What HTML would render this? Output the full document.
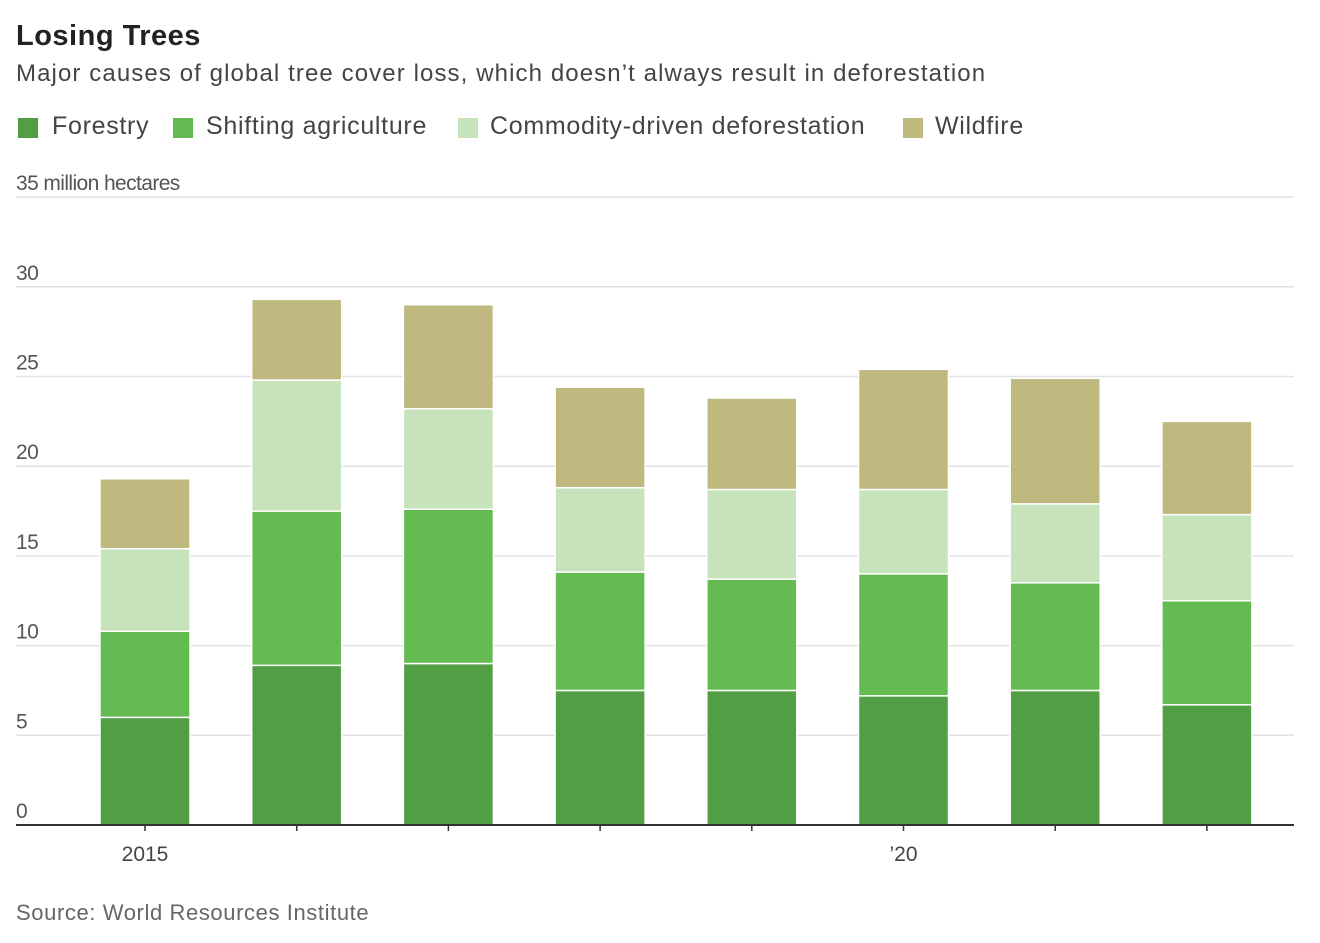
<!DOCTYPE html>
<html><head><meta charset="utf-8"><style>
body{margin:0;background:#fff;font-family:"Liberation Sans",sans-serif;color:#333;}
#wrap{position:relative;width:1320px;height:943px;overflow:hidden;}
.t{position:absolute;white-space:nowrap;}
.lg{position:absolute;top:112px;font-size:25px;color:#444;letter-spacing:0.7px;white-space:nowrap;}
.sw{position:absolute;top:118px;width:20px;height:20px;}
</style></head><body>
<div id="wrap">
<div class="t" style="left:16px;top:20px;font-size:29px;font-weight:bold;color:#222;letter-spacing:0.5px;">Losing Trees</div>
<div class="t" style="left:16px;top:60px;font-size:24px;color:#444;letter-spacing:1.1px;">Major causes of global tree cover loss, which doesn’t always result in deforestation</div>
<div>
<div class="sw" style="left:18px;background:#519e45"></div>
<div class="lg" style="left:52px">Forestry</div>
<div class="sw" style="left:173px;background:#63bb51"></div>
<div class="lg" style="left:206px">Shifting agriculture</div>
<div class="sw" style="left:458px;background:#c6e3bb"></div>
<div class="lg" style="left:490px">Commodity-driven deforestation</div>
<div class="sw" style="left:903px;background:#bfb87f"></div>
<div class="lg" style="left:935px">Wildfire</div>
</div>
<svg id="chart" width="1320" height="943" style="position:absolute;left:0;top:0"></svg>
<div class="t" style="left:16px;top:900px;font-size:22px;color:#666;letter-spacing:0.6px;">Source: World Resources Institute</div>
</div>
<script>
const years=["2015","2016","2017","2018","2019","2020","2021","2022"];
const forestry=[6.0,8.9,9.0,7.5,7.5,7.2,7.5,6.7];
const shifting=[4.8,8.6,8.6,6.6,6.2,6.8,6.0,5.8];
const commodity=[4.6,7.3,5.6,4.7,5.0,4.7,4.4,4.8];
const wildfire=[3.9,4.5,5.8,5.6,5.1,6.7,7.0,5.2];
const yTicks=[0,5,10,15,20,25,30,35];
const xLabels=["2015","","","","","’20","",""];
const ns="http://www.w3.org/2000/svg";
const svg=document.getElementById('chart');
const y0=825,unit=17.94,x0=145,step=151.7,bw=90;
const y=v=>y0-v*unit;
const x=i=>x0+i*step;
function mk(tag,attrs){const e=document.createElementNS(ns,tag);for(const k in attrs)e.setAttribute(k,attrs[k]);svg.appendChild(e);return e;}
yTicks.forEach(t=>{
  if(t>0){const g=mk('line',{x1:16,x2:1294,y1:y(t),y2:y(t),stroke:'#e2e2e2','stroke-width':1.5});
  
  }
  const lb=mk('text',{x:16,y:y(t)-7,'font-size':21,fill:'#555','letter-spacing':'-0.6','font-family':'Liberation Sans Narrow, Liberation Sans, sans-serif'});
  lb.textContent=t===35?'35 million hectares':String(t);
  
  
});
const series=[[forestry,'#519e45','forestry'],[shifting,'#63bb51','shifting'],[commodity,'#c6e3bb','commodity'],[wildfire,'#bfb87f','wildfire']];
years.forEach((yr,i)=>{
  let base=0;
  series.forEach(([arr,col,nm])=>{
    const v=arr[i];
    const r=mk('rect',{x:x(i)-bw/2,y:y(base+v),width:bw,height:v*unit,fill:col,stroke:'#fff','stroke-width':1.5});
    
    
    base+=v;
  });
  const tk=mk('line',{x1:x(i),x2:x(i),y1:y0,y2:y0+6,stroke:'#333','stroke-width':1.5});
  
  
  if(xLabels[i]){const t=mk('text',{x:x(i),y:861,'font-size':21,fill:'#444','text-anchor':'middle'});
  t.textContent=xLabels[i];
  
  }
});
const ax=mk('line',{x1:16,x2:1294,y1:y0,y2:y0,stroke:'#333','stroke-width':2});


</script>
</body></html>
